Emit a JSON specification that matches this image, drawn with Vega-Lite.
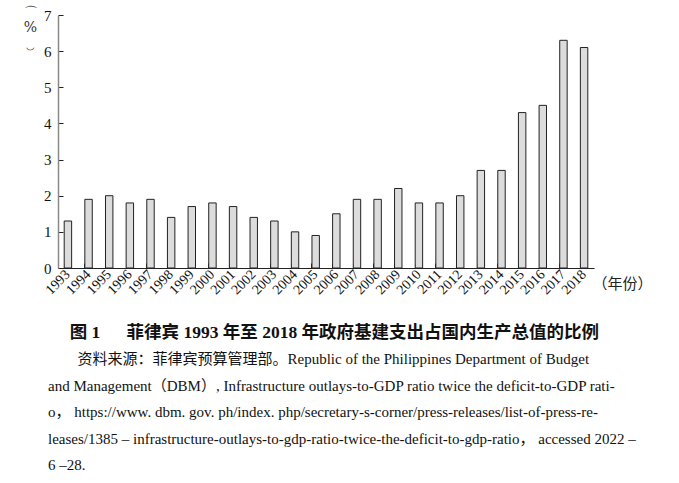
{
  "$schema": "https://vega.github.io/schema/vega-lite/v6.json",
  "width": 536,
  "height": 253,
  "autosize": "none",
  "padding": {"left": 58, "top": 15, "right": 85, "bottom": 215},
  "background": "white",
  "data": {
    "values": [
      {"year": "1993", "ratio": 1.3},
      {"year": "1994", "ratio": 1.9},
      {"year": "1995", "ratio": 2.0},
      {"year": "1996", "ratio": 1.8},
      {"year": "1997", "ratio": 1.9},
      {"year": "1998", "ratio": 1.4},
      {"year": "1999", "ratio": 1.7},
      {"year": "2000", "ratio": 1.8},
      {"year": "2001", "ratio": 1.7},
      {"year": "2002", "ratio": 1.4},
      {"year": "2003", "ratio": 1.3},
      {"year": "2004", "ratio": 1.0},
      {"year": "2005", "ratio": 0.9},
      {"year": "2006", "ratio": 1.5},
      {"year": "2007", "ratio": 1.9},
      {"year": "2008", "ratio": 1.9},
      {"year": "2009", "ratio": 2.2},
      {"year": "2010", "ratio": 1.8},
      {"year": "2011", "ratio": 1.8},
      {"year": "2012", "ratio": 2.0},
      {"year": "2013", "ratio": 2.7},
      {"year": "2014", "ratio": 2.7},
      {"year": "2015", "ratio": 4.3},
      {"year": "2016", "ratio": 4.5},
      {"year": "2017", "ratio": 6.3},
      {"year": "2018", "ratio": 6.1}
    ]
  },
  "title": {
    "text": "\u2800\u2002图 1\u3000\u2002菲律宾 1993 年至 2018 年政府基建支出占国内生产总值的比例",
    "subtitle": [
      "\u2800\u2800\u2002资料来源：菲律宾预算管理部。Republic of the Philippines Department of Budget",
      "and Management（DBM）, Infrastructure outlays-to-GDP ratio twice the deficit-to-GDP rati-",
      "o， https://www. dbm. gov. ph/index. php/secretary-s-corner/press-releases/list-of-press-re-",
      "leases/1385 – infrastructure-outlays-to-gdp-ratio-twice-the-deficit-to-gdp-ratio， accessed 2022 –",
      "6 –28."
    ],
    "orient": "bottom",
    "anchor": "start",
    "frame": "group",
    "dx": -10,
    "offset": 27,
    "font": "Liberation Serif, Noto Sans CJK SC",
    "fontSize": 17.5,
    "fontWeight": "bold",
    "color": "#111",
    "subtitleFont": "Liberation Serif, Noto Sans CJK SC",
    "subtitleFontSize": 15,
    "subtitleColor": "#111",
    "subtitleLineHeight": 26.5,
    "subtitlePadding": 11
  },
  "mark": {"type": "bar", "fill": "#dcdcdc", "stroke": "#222", "strokeWidth": 1},
  "encoding": {
    "x": {
      "field": "year",
      "type": "ordinal",
      "scale": {"paddingInner": 0.64, "paddingOuter": 0.3},
      "axis": {
        "bandPosition": 0,
        "labelAngle": -45,
        "labelAlign": "right",
        "labelBaseline": "middle",
        "labelFont": "Liberation Serif",
        "labelFontSize": 14,
        "labelColor": "#111",
        "labelPadding": 9,
        "tickSize": -5,
        "tickColor": "#222",
        "domainColor": "#222",
        "domainWidth": 1.2,
        "title": "（年份）",
        "titleFont": "Noto Sans CJK SC",
        "titleFontSize": 15,
        "titleFontWeight": "normal",
        "titleColor": "#222",
        "titleAngle": 0,
        "titleAlign": "left",
        "titleBaseline": "middle",
        "titleX": 534,
        "titleY": 15
      }
    },
    "y": {
      "field": "ratio",
      "type": "quantitative",
      "scale": {"domain": [0, 7], "nice": false},
      "axis": {
        "values": [0, 1, 2, 3, 4, 5, 6, 7],
        "grid": false,
        "labelFont": "Liberation Serif",
        "labelFontSize": 15,
        "labelColor": "#111",
        "labelPadding": 12,
        "tickSize": -5,
        "tickColor": "#222",
        "domainColor": "#888",
        "domainWidth": 1.5,
        "title": ["⌒", "%", "‿"],
        "titleFont": "DejaVu Serif",
        "titleFontSize": 14,
        "titleFontWeight": "normal",
        "titleColor": "#333",
        "titleAngle": 0,
        "titleAlign": "center",
        "titleBaseline": "middle",
        "titleLineHeight": 15,
        "titleX": -28,
        "titleY": -3
      }
    }
  },
  "config": {"view": {"stroke": null}}
}
